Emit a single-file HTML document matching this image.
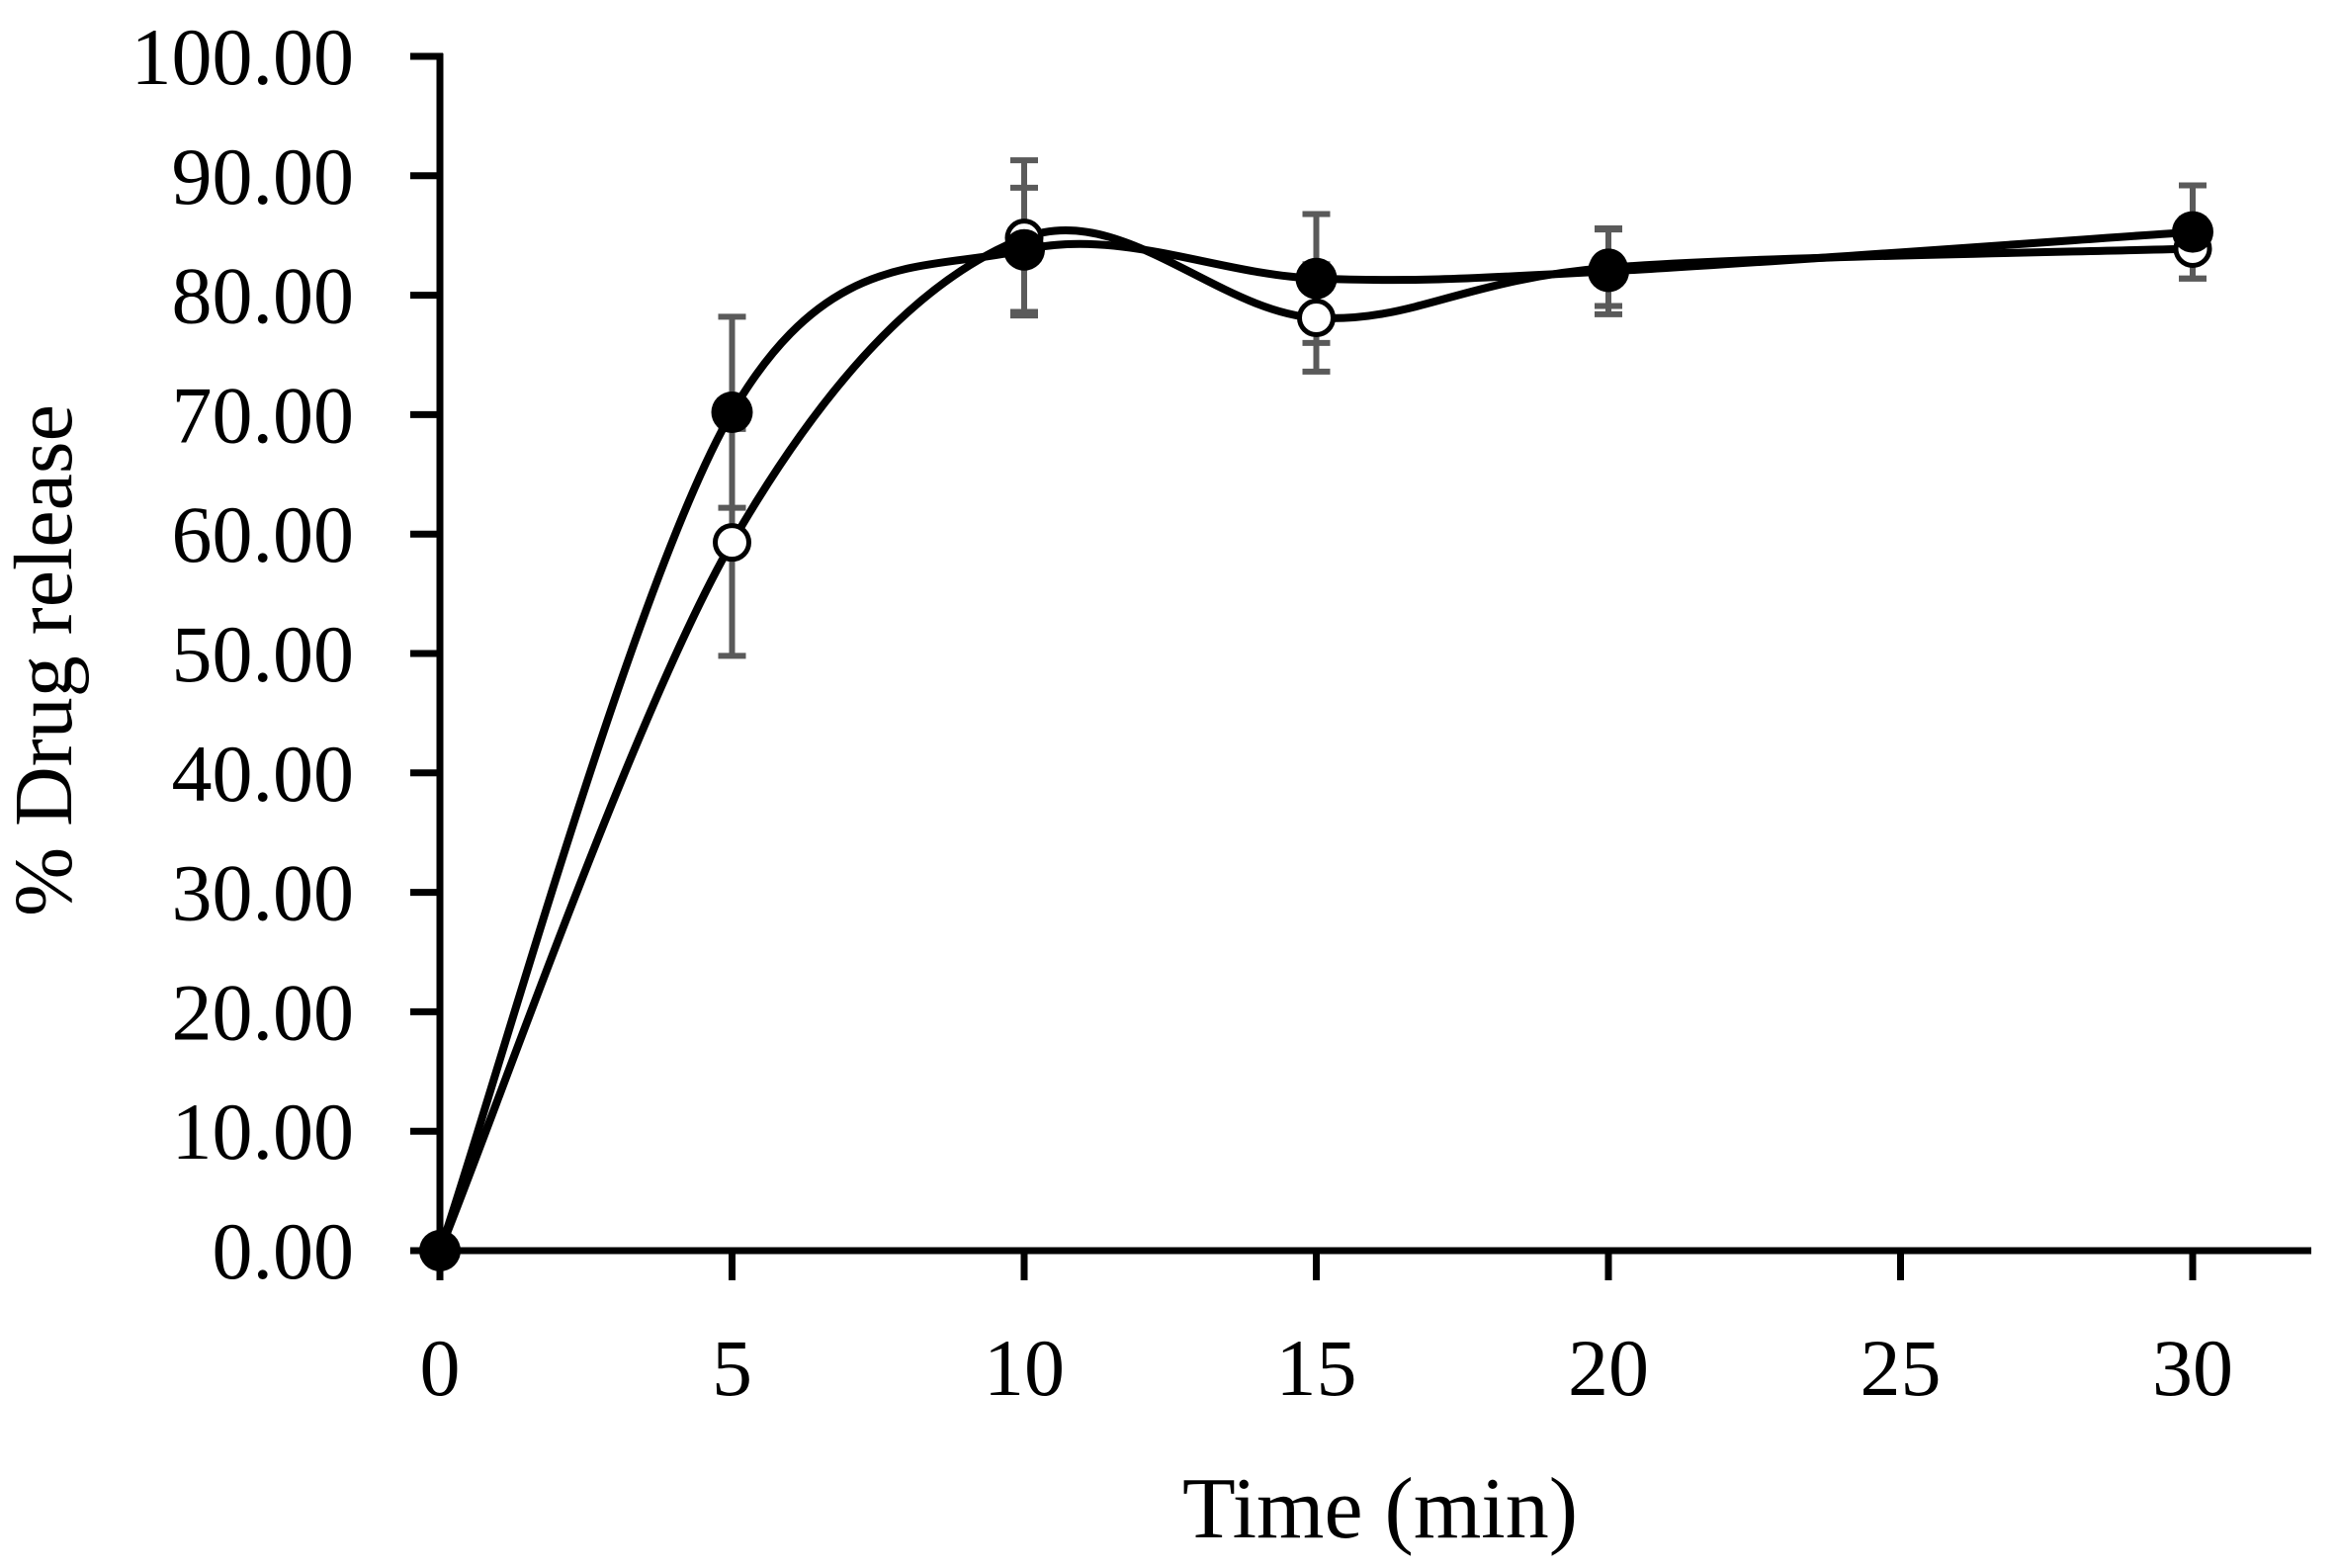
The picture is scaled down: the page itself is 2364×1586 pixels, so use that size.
<!DOCTYPE html>
<html><head><meta charset="utf-8"><style>
html,body{margin:0;padding:0;background:#fff;}
svg{display:block;}
text{font-family:"Liberation Serif",serif;fill:#000;}
</style></head><body>
<svg id="chart" width="2364" height="1586" viewBox="0 0 2364 1586" xmlns="http://www.w3.org/2000/svg">
<g id="axes"></g>
<g id="errs"></g>
<g id="lines"></g>
<g id="marks"></g>
<text x="1396" y="1555" font-size="88" text-anchor="middle">Time (min)</text>
<text transform="translate(72,668) rotate(-90)" font-size="84" text-anchor="middle">% Drug release</text>
</svg>
<script>
const times = [0, 5, 10, 15, 20, 30];
const filledValues = [0, 70.2, 83.8, 81.4, 82.0, 85.3];
const filledErrors = [0, 8.0, 5.2, 5.4, 3.6, 3.9];
const openValues = [0, 59.3, 84.8, 78.1, 82.3, 83.9];
const openErrors = [0, 9.5, 6.5, 4.5, 3.2, 2.5];
const xTicks = [0, 5, 10, 15, 20, 25, 30];
const yTicks = [0, 10, 20, 30, 40, 50, 60, 70, 80, 90, 100];

const NS = 'http://www.w3.org/2000/svg';
const X = t => 445 + t * 59.1;
const Y = v => 1265 - v * 12.08;
function mk(tag, attrs, parent) {
  const e = document.createElementNS(NS, tag);
  for (const k in attrs) e.setAttribute(k, attrs[k]);
  parent.appendChild(e);
  return e;
}
const axes = document.getElementById('axes');
let e;
e = mk('line', {x1: 445, y1: 54, x2: 445, y2: 1268, stroke: '#000', 'stroke-width': 7}, axes);


e = mk('line', {x1: 415, y1: 1265, x2: 2338, y2: 1265, stroke: '#000', 'stroke-width': 7}, axes);


yTicks.forEach(v => {
  const t = mk('line', {x1: 415, y1: Y(v), x2: 448, y2: Y(v), stroke: '#000', 'stroke-width': 7}, axes);
  
  
  const l = mk('text', {x: 358, y: Y(v) + 28, 'font-size': 82, 'text-anchor': 'end'}, axes);
  l.textContent = v.toFixed(2);
  
  
});
xTicks.forEach(v => {
  const t = mk('line', {x1: X(v), y1: 1262, x2: X(v), y2: 1295, stroke: '#000', 'stroke-width': 7}, axes);
  
  
  const l = mk('text', {x: X(v), y: 1411, 'font-size': 82, 'text-anchor': 'middle'}, axes);
  l.textContent = v;
  
  
});
const errs = document.getElementById('errs');
function drawErr(vals, errsArr, name) {
  times.forEach((t, i) => {
    if (!errsArr[i]) return;
    const x = X(t), y1 = Y(vals[i] - errsArr[i]), y2 = Y(vals[i] + errsArr[i]);
    const g = mk('path', {d: `M${x},${y1}V${y2}M${x-14},${y1}H${x+14}M${x-14},${y2}H${x+14}`, stroke: '#5a5a5a', 'stroke-width': 6, fill: 'none'}, errs);
    
    
  });
}
drawErr(openValues, openErrors, 'error-bar-open');
drawErr(filledValues, filledErrors, 'error-bar-filled');
function smooth(vals) {
  const p = times.map((t, i) => [X(t), Y(vals[i])]);
  let d = `M${p[0][0]},${p[0][1]}`;
  for (let i = 0; i < p.length - 1; i++) {
    const p0 = p[Math.max(0, i - 1)], p1 = p[i], p2 = p[i + 1], p3 = p[Math.min(p.length - 1, i + 2)];
    const c1 = [p1[0] + (p2[0] - p0[0]) / 6, p1[1] + (p2[1] - p0[1]) / 6];
    const c2 = [p2[0] - (p3[0] - p1[0]) / 6, p2[1] - (p3[1] - p1[1]) / 6];
    d += `C${c1[0]},${c1[1]} ${c2[0]},${c2[1]} ${p2[0]},${p2[1]}`;
  }
  return d;
}
const lines = document.getElementById('lines');
e = mk('path', {d: smooth(openValues), stroke: '#000', 'stroke-width': 8, fill: 'none'}, lines);


e = mk('path', {d: smooth(filledValues), stroke: '#000', 'stroke-width': 8, fill: 'none'}, lines);


const marks = document.getElementById('marks');
times.forEach((t, i) => {
  const c = mk('circle', {cx: X(t), cy: Y(openValues[i]), r: 17, fill: '#fff', stroke: '#000', 'stroke-width': 5}, marks);
  
  
});
times.forEach((t, i) => {
  const c = mk('circle', {cx: X(t), cy: Y(filledValues[i]), r: 21, fill: '#000'}, marks);
  
  
});
</script>
</body></html>
